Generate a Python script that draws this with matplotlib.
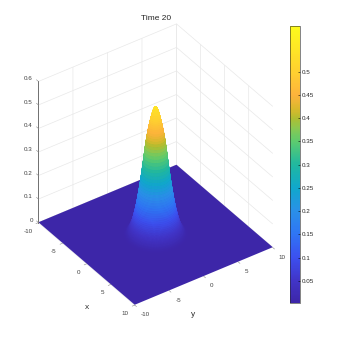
import numpy as np
import matplotlib
matplotlib.use('Agg')
import matplotlib.pyplot as plt
from matplotlib.cm import ScalarMappable
from matplotlib.colors import LinearSegmentedColormap, Normalize
from mpl_toolkits.mplot3d import proj3d

# radial profile of the pulse
radii = [0.0, 0.05, 0.1, 0.15, 0.2, 0.25, 0.3, 0.35, 0.4, 0.45, 0.5, 0.55, 0.6, 0.65, 0.7, 0.75,
         0.8, 0.85, 0.9, 0.95, 1.0, 1.05, 1.1, 1.15, 1.2, 1.25, 1.3, 1.35, 1.4, 1.45, 1.5, 1.55,
         1.6, 1.65, 1.7, 1.75, 1.8, 1.85, 1.9, 1.95, 2.0, 2.05, 2.1, 2.15, 2.2, 2.25, 2.3, 2.35,
         2.4, 2.45, 2.5, 2.55, 2.6, 2.65, 2.7, 2.75, 2.8, 2.85, 2.9, 2.95, 3.0, 3.05, 3.1, 3.15,
         3.2, 3.25, 3.3, 3.35, 3.4, 3.45, 3.5, 3.6, 3.7, 3.8, 3.9, 4.0, 5.0]
heights = [0.546, 0.5455, 0.544, 0.542, 0.539, 0.535, 0.531, 0.526, 0.521, 0.515, 0.509, 0.502,
           0.495, 0.488, 0.481, 0.473, 0.465, 0.457, 0.448, 0.439, 0.430, 0.420, 0.410, 0.399,
           0.388, 0.376, 0.363, 0.350, 0.337, 0.323, 0.310, 0.297, 0.284, 0.271, 0.259, 0.247,
           0.235, 0.223, 0.212, 0.201, 0.190, 0.180, 0.170, 0.160, 0.150, 0.141, 0.132, 0.123,
           0.115, 0.107, 0.100, 0.093, 0.086, 0.079, 0.073, 0.067, 0.061, 0.056, 0.051, 0.046,
           0.042, 0.038, 0.034, 0.030, 0.027, 0.024, 0.021, 0.018, 0.016, 0.014, 0.012, 0.009,
           0.007, 0.005, 0.004, 0.003, 0.0014]
floor_level = 0.0014

xy_ticks = [-10, -5, 0, 5, 10]
z_ticks = [0, 0.1, 0.2, 0.3, 0.4, 0.5, 0.6]
cbar_ticks = [0.05, 0.1, 0.15, 0.2, 0.25, 0.3, 0.35, 0.4, 0.45, 0.5]
c_min, c_max = 0.0014, 0.5988

# colours along the colorbar
cmap_stops = [0.0014, 0.05, 0.1, 0.15, 0.2, 0.25, 0.3, 0.35, 0.38, 0.4, 0.42, 0.45, 0.5, 0.5988]
cmap_colors = ['#3d26a8', '#4135c8', '#3c50f0', '#2f75f5', '#2a90e8', '#10a8cc', '#20b8a0',
               '#5ccb6f', '#8cc850', '#b0bd30', '#d9b92c', '#fdb33c', '#ffd030', '#fdfb1c']

plt.rcParams['font.family'] = ['Liberation Sans', 'DejaVu Sans']

norm = Normalize(c_min, c_max)
cm = LinearSegmentedColormap.from_list(
    'bar', [(norm(v), c) for v, c in zip(cmap_stops, cmap_colors)], N=256)

W = 341
fig = plt.figure(figsize=(3.41, 3.41), dpi=100)

side = 300
left = (155.6 - 0.5135 * side) / W
bottom = (176.5 - 0.5135 * side) / W
ax = fig.add_axes([left, bottom, side / W, side / W], projection='3d', proj_type='ortho')
ax.patch.set_alpha(0)
ax.set_box_aspect((1, 1, 1.046), zoom=0.958)
ax.view_init(elev=36.7, azim=-34.9)
ax.set_xlim(-10, 10, view_margin=0)
ax.set_ylim(-10, 10, view_margin=0)
ax.set_zlim(0, 0.6, view_margin=0)
ax.computed_zorder = False


def label_at(x, y, z, px_right, px_down, s, **kw):
    # text some pixels away from where a 3D point lands on screen
    x2, y2, _ = proj3d.proj_transform(x, y, z, ax.get_proj())
    ax.annotate(s, xy=(x2, y2), xytext=(px_right, -px_down), textcoords='offset pixels',
                va='center', annotation_clip=False, zorder=5, **kw)


# flat floor first, pulse on top of it
fx, fy = np.meshgrid([-10, 10], [-10, 10])
ax.plot_surface(fx, fy, np.full(fx.shape, floor_level), color=cm(norm(floor_level)),
                shade=False, linewidth=0, zorder=1)

theta = np.linspace(0, 2 * np.pi, 121)
rr, tt = np.meshgrid(radii, theta)
zz = np.tile(heights, (len(theta), 1))
surf = ax.plot_surface(rr * np.cos(tt), rr * np.sin(tt), zz, cmap=cm, norm=norm, rstride=1, cstride=1,
                       linewidth=0.3, shade=False, zorder=2)
surf.set_edgecolor('face')

# native axes only give the wall grid, the box edges and labels are drawn by hand
ax.set_xticks(xy_ticks[:-1])
ax.set_yticks(xy_ticks)
ax.set_zticks(z_ticks)
for axis in [ax.xaxis, ax.yaxis, ax.zaxis]:
    axis.set_pane_color((1, 1, 1, 0))
    axis.pane.set_edgecolor((1, 1, 1, 0))
    axis.line.set_color((1, 1, 1, 0))
    axis.label.set_visible(False)
    axis.offsetText.set_visible(False)
    for tick in axis.get_major_ticks():
        tick.label1.set_visible(False)
        tick.label2.set_visible(False)
    axis._axinfo['grid'].update(color='#e8e8e8', linewidth=0.5)
    axis._axinfo['tick']['inward_factor'] = 0.0
    axis._axinfo['tick']['outward_factor'] = 0.0
    axis._axinfo['tick']['linewidth'] = {True: 0.0, False: 0.0}

tick_c = '#8a8a8a'
text_c = '#404040'
ax.plot([-10, -10], [-10, -10], [0, 0.6], color='#707070', lw=0.7, zorder=3)
for t in z_ticks:
    ax.plot([-10, -10.4], [-10, -10], [t, t], color=tick_c, lw=0.4, zorder=3)
    label_at(-10, -10, t, -5.5, -2.5, '%g' % t, ha='right', fontsize=4.5, color=text_c)
for t in xy_ticks:
    ax.plot([t, t], [-10, -10.35], [0, 0], color=tick_c, lw=0.4, zorder=3)
    label_at(t, -10, 0, -6, 8.5, '%d' % t, ha='right', fontsize=4.5, color=text_c)
    ax.plot([10, 10.35], [t, t], [0, 0], color=tick_c, lw=0.4, zorder=3)
    label_at(10, t, 0, 6, 9.5, '%d' % t, ha='left', fontsize=4.5, color=text_c)
label_at(0, -10, 0, 0, 44, 'x', ha='center', fontsize=6, color='#303030')
label_at(10, 0, 0, -10.2, 37.8, 'y', ha='center', fontsize=6, color='#303030')

fig.text(156 / W, 1 - 18 / W, 'Time 20', ha='center', va='center', fontsize=6, color='#262626')

cax = fig.add_axes([290 / W, (W - 303.3) / W, 9.5 / W, 277.3 / W])
cbar = fig.colorbar(ScalarMappable(norm=norm, cmap=cm), cax=cax, ticks=cbar_ticks)
cbar.ax.set_yticklabels(['%g' % v for v in cbar_ticks])
cbar.ax.tick_params(direction='in', length=1.5, width=0.4, labelsize=4.5, labelcolor='#262626', pad=1.5)
cbar.outline.set_linewidth(0.4)
cbar.outline.set_edgecolor('#262626')

fig.savefig('out.png', dpi=100)
